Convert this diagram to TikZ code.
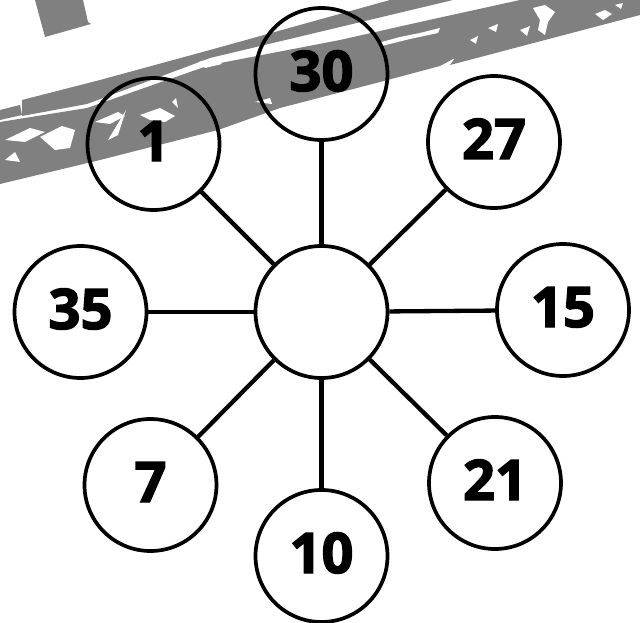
\documentclass[tikz,border=0pt]{standalone}
\usepackage{fontspec}
\newfontfamily\numfont[BoldFeatures={FakeBold=2.5}]{Open Sans}
\definecolor{grunge}{HTML}{808080}
\tikzset{
  ring/.style={circle, draw=black, line width=3.7pt, minimum size=132pt, inner sep=0pt,
    text height=40pt, text depth=6pt,
    font=\numfont\bfseries\fontsize{56}{56}\selectfont},
  spoke/.style={draw=black, line width=4.3pt},
  band/.style={fill=grunge, draw=none},
  speck/.style={fill=white, draw=none}
}
\begin{document}
\begin{tikzpicture}[x=1pt,y=-1pt]
\useasboundingbox (0,0) rectangle (640,623);
% grunge brush stroke
\fill[band] (35,0) -- (83,0) -- (88,22) -- (91,24) -- (45,37) -- cycle;
\fill[band] (22,100) -- (100,80) -- (210,50) -- (390,0) -- (453,0) -- (340,27) -- (210,58) -- (87,104) -- (22,116) -- cycle;
\fill[band] (0,110) -- (20,105) -- (22,115) -- (0,120) -- cycle;
\fill[band] (0,122) -- (87,108) -- (210,65) -- (340,40) -- (420,22) -- (520,0) -- (640,0) -- (640,15) -- (450,65) -- (455,58) -- (440,66) -- (380,82) -- (280,108) -- (218,130) -- (100,160) -- (0,184) -- cycle;
% white scratches
\fill[speck] (5,140) -- (30,128) -- (45,132) -- (25,142) -- cycle;
\fill[speck] (40,137) -- (62,126) -- (75,130) -- (70,148) -- (55,150) -- cycle;
\fill[speck] (5,160) -- (15,152) -- (20,162) -- cycle;
\fill[speck] (95,122) -- (118,112) -- (125,116) -- (110,124) -- cycle;
\fill[speck] (108,140) -- (126,110) -- (118,135) -- cycle;
\fill[speck] (140,115) -- (160,108) -- (175,116) -- (165,122) -- (150,120) -- cycle;
\fill[speck] (172,102) -- (176,98) -- (178,108) -- cycle;
\fill[speck] (198,62) -- (215,58) -- (222,64) -- (205,68) -- cycle;
\fill[speck] (255,102) -- (270,98) -- (272,104) -- cycle;
\fill[speck] (378,43) -- (400,37) -- (420,33) -- (440,28) -- (438,33) -- (410,39) -- (382,46) -- cycle;
\fill[speck] (533,8) -- (545,5) -- (555,12) -- (548,22) -- (545,35) -- (538,30) -- (540,20) -- cycle;
\fill[speck] (595,14) -- (605,10) -- (612,14) -- (603,20) -- cycle;
\fill[speck] (615,5) -- (623,3) -- (621,9) -- cycle;
\fill[speck] (488,28) -- (498,24) -- (496,32) -- cycle;
\fill[speck] (520,30) -- (530,26) -- (527,36) -- cycle;
\fill[speck] (470,40) -- (478,36) -- (476,44) -- cycle;
% nodes
\node[ring] (c)  at (321.5,312) {};
\node[ring] (n30) at (321.5,74) {30};
\node[ring] (n1)  at (153.5,144) {1};
\node[ring] (n27) at (494,142) {27};
\node[ring] (n35) at (80.5,312) {35};
\node[ring] (n15) at (563,310) {15};
\node[ring] (n7)  at (150.5,485) {7};
\node[ring] (n21) at (495,483) {21};
\node[ring] (n10) at (321.5,556) {10};
% spokes
\foreach \n in {n30,n1,n27,n35,n15,n7,n21,n10}
  \draw[spoke] (c) -- (\n);
\end{tikzpicture}
\end{document}
